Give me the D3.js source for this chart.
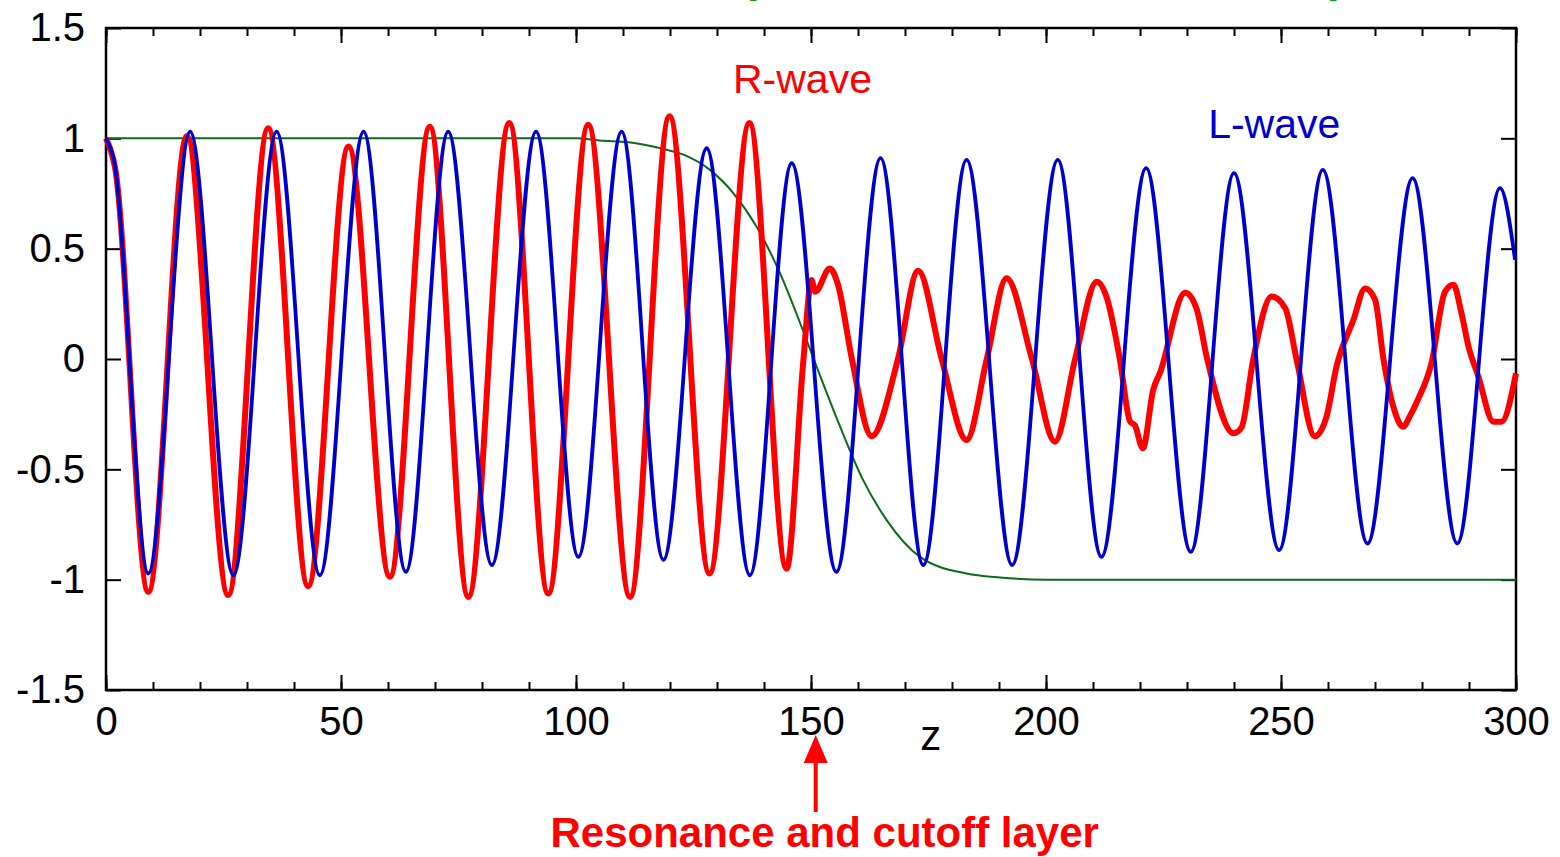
<!DOCTYPE html>
<html>
<head>
<meta charset="utf-8">
<script src="https://cdn.jsdelivr.net/npm/d3@7"></script>
<style>
  body { margin: 0; background: #fff; }
  svg { display: block; font-family: "Liberation Sans", Arial, sans-serif; }
</style>
</head>
<body>
<script>
// R-wave (red): [z, amplitude]
var rWave = [[0, 1.0], [1.9, 0.87], [9.0, -1.055], [17.2, 1.01], [26.0, -1.07], [34.5, 1.046],
  [43.0, -1.03], [51.6, 0.963], [60.4, -0.987], [68.9, 1.053], [77.1, -1.078], [85.8, 1.07],
  [94.1, -1.063], [102.6, 1.061], [111.5, -1.078], [119.9, 1.1], [128.4, -0.972], [136.9, 1.07],
  [144.8, -0.95], [148.4, 0], [150.1, 0.358], [150.9, 0.305], [154, 0.41], [155.7, 0.34],
  [158.7, 0], [162.9, -0.35], [168.5, 0], [172.8, 0.40], [177.8, 0], [183.1, -0.367],
  [187.4, 0], [191.6, 0.366], [197, 0], [201.9, -0.375], [206.2, 0], [210.8, 0.35],
  [212.9, 0.28], [215.7, 0], [217.9, -0.284], [218.9, -0.30], [220.6, -0.405], [222.8, -0.14],
  [224.3, -0.06], [229.6, 0.30], [232, 0.23], [234.3, 0], [239.9, -0.337], [241.6, -0.31],
  [244.1, 0], [248, 0.283], [250.9, 0.23], [253.3, 0], [257.2, -0.35], [259.7, -0.26],
  [261.8, -0.035], [265.4, 0.177], [267.9, 0.32], [270, 0.27], [271.8, 0], [273.9, -0.216],
  [276, -0.307], [277.4, -0.26], [279.1, -0.186], [282, -0.02], [284.9, 0.305], [286.7, 0.336],
  [288.4, 0.207], [289.9, 0.056], [292, -0.08], [295.2, -0.284], [296.9, -0.284], [300, -0.065]];

// L-wave (blue)
var lWave = [[0, 1.0], [1.6, 0.91], [9.0, -0.972], [17.9, 1.03], [27.1, -0.98], [36.3, 1.03],
  [45.5, -0.98], [54.8, 1.03], [63.8, -0.965], [72.8, 1.03], [82.1, -0.934], [91.5, 1.03],
  [100.5, -0.897], [109.7, 1.03], [118.6, -0.91], [127.8, 0.955], [137, -0.98], [145.9, 0.887],
  [155.4, -0.965], [164.8, 0.91], [173.9, -0.934], [183.1, 0.902], [192.8, -0.934], [202.5, 0.902],
  [211.8, -0.897], [221.3, 0.865], [230.8, -0.874], [240, 0.842], [249.6, -0.866], [258.9, 0.857],
  [268.4, -0.836], [278, 0.82], [287.5, -0.836], [296.6, 0.774], [299.8, 0.45]];

// profile (green)
var profile = [[0, 1], [100, 1], [105, 0.99], [112, 0.98], [118, 0.955], [123, 0.925],
  [128.5, 0.857], [133.5, 0.751], [138.4, 0.6], [143.4, 0.389], [147.7, 0.162], [151.2, -0.035],
  [156.2, -0.307], [161.1, -0.549], [166.1, -0.73], [173.2, -0.897], [183.1, -0.972],
  [190.2, -0.99], [200, -1], [300, -1]];

var xMajor = [0, 50, 100, 150, 200, 250, 300];
var xMinor = d3.range(0, 301, 10);
var yTicks = [1.5, 1, 0.5, 0, -0.5, -1, -1.5];
var yLabels = ["1.5", "1", "0.5", "0", "-0.5", "-1", "-1.5"];

var W = 1560, H = 857;
var margin = {top: 28, right: 44, bottom: 167, left: 106};
var w = W - margin.left - margin.right;
var h = H - margin.top - margin.bottom;

var svg = d3.select("body").append("svg")
  .attr("width", W)
  .attr("height", H);

var g = svg.append("g").attr("transform", "translate(" + margin.left + "," + margin.top + ")");

var x = d3.scaleLinear().domain([0, 300]).range([0, w]);
var y = d3.scaleLinear().domain([-1.5, 1.5]).range([h, 0]);

// cut-off green caption above the frame (only descenders visible, as in the source)
svg.append("text").attr("x", 770).attr("y", -7).attr("text-anchor", "end")
  .attr("font-size", 40).attr("font-weight", "bold").attr("fill", "#119911")
  .text("R-wave absorbed totally");
svg.append("text").attr("x", 1350).attr("y", -7).attr("text-anchor", "end")
  .attr("font-size", 40).attr("font-weight", "bold").attr("fill", "#119911")
  .text("L-wave continues steadily");

// axes, ticks pointing inward
function tickStyle(sel) {
  sel.select(".domain").remove();
  sel.selectAll("line").attr("stroke", "#000").attr("stroke-width", 2);
  sel.selectAll("text").attr("font-size", 40).attr("fill", "#000");
}

g.append("g").attr("transform", "translate(0," + h + ")")
  .call(d3.axisBottom(x).tickValues(xMinor).tickSize(-8).tickFormat(""))
  .call(tickStyle);
g.append("g").attr("transform", "translate(0," + h + ")")
  .call(d3.axisBottom(x).tickValues(xMajor).tickSizeInner(-15).tickSizeOuter(0).tickPadding(17).tickFormat(d3.format("d")))
  .call(tickStyle);
g.append("g")
  .call(d3.axisTop(x).tickValues(xMinor).tickSize(-8).tickFormat(""))
  .call(tickStyle);
g.append("g")
  .call(d3.axisTop(x).tickValues(xMajor).tickSize(-15).tickFormat(""))
  .call(tickStyle);
g.append("g")
  .call(d3.axisLeft(y).tickValues(yTicks).tickSizeInner(-15).tickSizeOuter(0).tickPadding(21)
    .tickFormat(function(d, i) { return yLabels[i]; }))
  .call(tickStyle);
g.append("g").attr("transform", "translate(" + w + ",0)")
  .call(d3.axisRight(y).tickValues(yTicks).tickSize(-15).tickFormat(""))
  .call(tickStyle);

g.append("rect")
  .attr("width", w).attr("height", h)
  .attr("fill", "none").attr("stroke", "#000").attr("stroke-width", 2.5);

var line = d3.line()
  .x(function(d) { return x(d[0]); })
  .y(function(d) { return y(d[1]); })
  .curve(d3.curveMonotoneX);

g.append("path").datum(profile)
  .attr("d", line).attr("fill", "none")
  .attr("stroke", "#0b6a1c").attr("stroke-width", 2);

g.append("path").datum(rWave)
  .attr("d", line).attr("fill", "none")
  .attr("stroke", "#ff0000").attr("stroke-width", 6).attr("stroke-linejoin", "round");

g.append("path").datum(lWave)
  .attr("d", line).attr("fill", "none")
  .attr("stroke", "#0000cc").attr("stroke-width", 3.8).attr("stroke-linejoin", "round");

// labels
g.append("text").attr("x", x(133.4)).attr("y", y(1.205))
  .attr("font-size", 41).attr("fill", "#ff0000").text("R-wave");
g.append("text").attr("x", x(234.5)).attr("y", y(1.0))
  .attr("font-size", 41).attr("fill", "#0000cc").text("L-wave");
g.append("text").attr("x", x(175.5)).attr("y", h + 60)
  .attr("text-anchor", "middle").attr("font-size", 42).attr("fill", "#000").text("z");

// arrow to the layer
var ax = x(151);
g.append("line").attr("x1", ax).attr("x2", ax).attr("y1", h + 122).attr("y2", h + 68)
  .attr("stroke", "#ff0000").attr("stroke-width", 4);
g.append("path")
  .attr("d", "M" + ax + "," + (h + 45) + "L" + (ax - 12) + "," + (h + 73) + "L" + (ax + 12) + "," + (h + 73) + "Z")
  .attr("fill", "#ff0000");
g.append("text").attr("x", ax + 9).attr("y", h + 157)
  .attr("text-anchor", "middle").attr("font-size", 42).attr("font-weight", "bold")
  .attr("fill", "#ff0000").text("Resonance and cutoff layer");
</script>
</body>
</html>
